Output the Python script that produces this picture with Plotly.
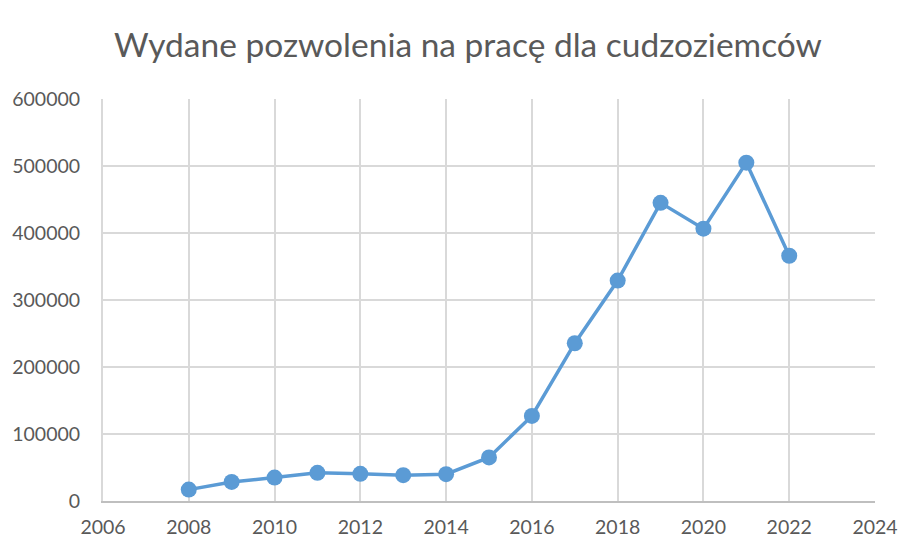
import plotly.graph_objects as go

years = [2008, 2009, 2010, 2011, 2012, 2013, 2014, 2015, 2016, 2017, 2018, 2019, 2020, 2021, 2022]
permits = [17000, 28500, 35000, 42000, 40500, 38500, 40000, 65000, 127000, 235500, 329000, 445000, 406500, 505000, 366000]

title_text = "Wydane pozwolenia na pracę dla cudzoziemców"
x_ticks = [2006, 2008, 2010, 2012, 2014, 2016, 2018, 2020, 2022, 2024]
y_ticks = [0, 100000, 200000, 300000, 400000, 500000, 600000]

grid_c = "#d9d9d9"
text_c = "#595959"
line_c = "#5b9bd5"

fig = go.Figure()
fig.add_trace(go.Scatter(
    x=years, y=permits, mode="lines+markers",
    line=dict(color=line_c, width=3.5),
    marker=dict(color=line_c, size=16),
    showlegend=False,
))

fig.update_layout(
    width=920, height=556,
    margin=dict(l=95, r=53, t=91, b=63),
    paper_bgcolor="white", plot_bgcolor="white",
    font=dict(family="Lato", color=text_c, size=19.5),
    title=dict(text=title_text, x=0.5, xanchor="center", y=0.933, yanchor="middle",
               font=dict(family="Lato", size=33.5, color=text_c)),
)
fig.update_xaxes(
    range=[2006, 2024], tickvals=x_ticks, ticktext=[str(v) for v in x_ticks],
    showgrid=True, gridcolor=grid_c, gridwidth=2,
    showline=True, linecolor="#bfbfbf", linewidth=2, mirror=False,
    ticks="", ticklabelstandoff=8, zeroline=False, automargin=False,
)
fig.update_yaxes(
    range=[0, 600000], tickvals=y_ticks, ticktext=[str(v) for v in y_ticks],
    showgrid=True, gridcolor=grid_c, gridwidth=2,
    showline=True, linecolor=grid_c, linewidth=2, mirror=False,
    ticks="", ticklabelstandoff=17, zeroline=False, automargin=False,
)
fig.write_html("out.html")
